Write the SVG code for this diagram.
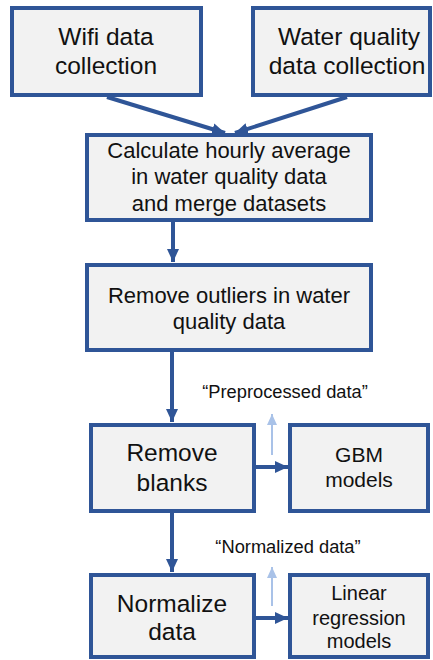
<svg xmlns="http://www.w3.org/2000/svg" width="433" height="660" viewBox="0 0 433 660">
  <style>
    .box { fill: #f2f2f2; stroke: #2f5597; stroke-width: 4; }
    .lbl { font-family: "Liberation Sans", Arial, sans-serif; fill: #111; text-anchor: middle; }
    .big { font-size: 24.5px; }
    .mid { font-size: 22px; }
    .gbm { font-size: 21px; }
    .lin { font-size: 20px; }
    .sm { font-size: 18.3px; }
    .link { stroke: #2f5597; stroke-width: 4; fill: none; }
    .hint { stroke: #a9c2e8; stroke-width: 2; fill: none; }
  </style>
  <defs>
    <marker id="ah" markerUnits="userSpaceOnUse" markerWidth="14" markerHeight="14" viewBox="0 0 14 14" refX="13" refY="7" orient="auto">
      <path d="M0,1 L13,7 L0,13 Z" fill="#2f5597"/>
    </marker>
    <marker id="ahl" markerUnits="userSpaceOnUse" markerWidth="12" markerHeight="12" viewBox="0 0 12 12" refX="11" refY="6" orient="auto">
      <path d="M0,1 L11,6 L0,11 Z" fill="#a9c2e8"/>
    </marker>
  </defs>

  <g id="connectors">
    <line class="link" x1="107" y1="97" x2="225" y2="133" marker-end="url(#ah)"/>
    <line class="link" x1="347" y1="97" x2="235" y2="133" marker-end="url(#ah)"/>
    <line class="link" x1="173" y1="222" x2="173" y2="262" marker-end="url(#ah)"/>
    <line class="link" x1="172" y1="352" x2="172" y2="422" marker-end="url(#ah)"/>
    <line class="link" x1="256" y1="467" x2="288" y2="467" marker-end="url(#ah)"/>
    <line class="link" x1="172" y1="513" x2="172" y2="572" marker-end="url(#ah)"/>
    <line class="link" x1="256" y1="618" x2="288" y2="618" marker-end="url(#ah)"/>
    <line class="hint" x1="272" y1="455" x2="272" y2="414" marker-end="url(#ahl)"/>
    <line class="hint" x1="272" y1="606" x2="272" y2="567" marker-end="url(#ahl)"/>
  </g>

  <g id="wifi">
    <rect class="box" x="12" y="8" width="189" height="87"/>
    <text class="lbl big" x="106" y="45">Wifi data</text>
    <text class="lbl big" x="106" y="74">collection</text>
  </g>

  <g id="water">
    <rect class="box" x="253" y="8" width="177" height="87"/>
    <text class="lbl big" x="349" y="45">Water quality</text>
    <text class="lbl big" x="347" y="74">data collection</text>
  </g>

  <g id="merge">
    <rect class="box" x="87" y="135" width="284" height="85"/>
    <text class="lbl mid" x="229" y="158">Calculate hourly average</text>
    <text class="lbl mid" x="229" y="184">in water quality data</text>
    <text class="lbl mid" x="229" y="211">and merge datasets</text>
  </g>

  <g id="outliers">
    <rect class="box" x="87" y="265" width="284" height="85"/>
    <text class="lbl mid" x="229" y="303">Remove outliers in water</text>
    <text class="lbl mid" x="229" y="329">quality data</text>
  </g>

  <g id="blanks">
    <rect class="box" x="91" y="425" width="163" height="86"/>
    <text class="lbl big" x="172" y="461">Remove</text>
    <text class="lbl big" x="172" y="491">blanks</text>
  </g>

  <g id="gbm">
    <rect class="box" x="290" y="425" width="138" height="86"/>
    <text class="lbl gbm" x="359" y="462">GBM</text>
    <text class="lbl gbm" x="359" y="487">models</text>
  </g>

  <g id="preprocessed-label">
    <text class="lbl sm" x="285" y="398">“Preprocessed data”</text>
  </g>

  <g id="normalize">
    <rect class="box" x="91" y="575" width="163" height="82"/>
    <text class="lbl big" x="172" y="612">Normalize</text>
    <text class="lbl big" x="172" y="640">data</text>
  </g>

  <g id="linear">
    <rect class="box" x="290" y="575" width="138" height="82"/>
    <text class="lbl lin" x="359" y="600">Linear</text>
    <text class="lbl lin" x="359" y="625">regression</text>
    <text class="lbl lin" x="359" y="648">models</text>
  </g>

  <g id="normalized-label">
    <text class="lbl sm" x="288" y="553">“Normalized data”</text>
  </g>
</svg>
